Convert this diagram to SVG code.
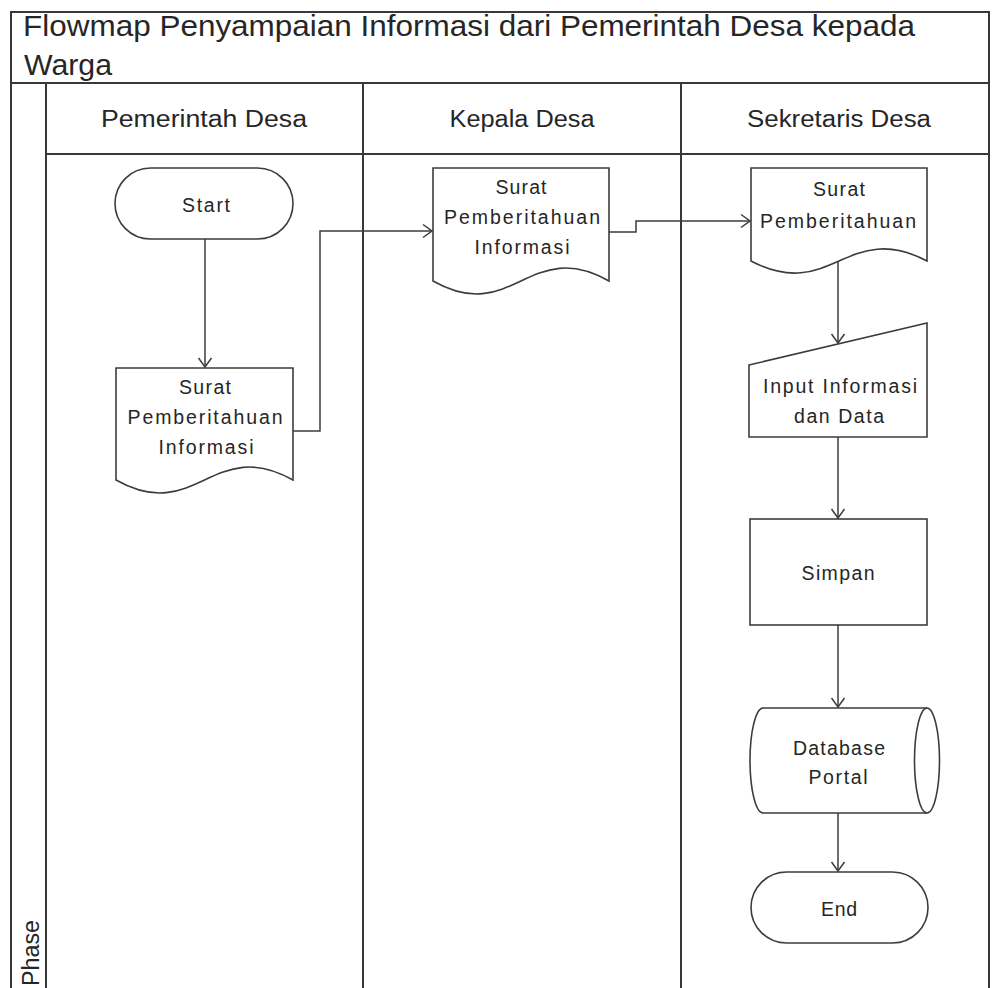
<svg xmlns="http://www.w3.org/2000/svg" width="993" height="988" viewBox="0 0 993 988">
  <style>
    .frame { fill: none; stroke: #383838; stroke-width: 2; }
    .shape { fill: #ffffff; stroke: #3c3c3c; stroke-width: 1.6; }
    .edge { fill: none; stroke: #3c3c3c; stroke-width: 1.5; marker-end: url(#open-arrow); }
    text { font-family: "Liberation Sans", Arial, sans-serif; fill: #262626; }
    .title { font-size: 30px; }
    .lane { font-size: 23px; text-anchor: middle; }
    .label { font-size: 19.5px; text-anchor: middle; }
  </style>
  <defs>
    <marker id="open-arrow" viewBox="-11 -8 12 16" markerWidth="12" markerHeight="16" refX="0" refY="0" orient="auto" markerUnits="userSpaceOnUse">
      <path d="M-9,-6.5 L0,0 L-9,6.5" fill="none" stroke="#3c3c3c" stroke-width="1.5"/>
    </marker>
  </defs>

  <rect width="993" height="988" fill="#ffffff"/>

  <!-- swimlane pool -->
  <g id="pool">
    <rect class="frame" x="11" y="12" width="978" height="1000"/>
    <line class="frame" x1="11" y1="83" x2="989" y2="83"/>
    <line class="frame" x1="46" y1="83" x2="46" y2="1000"/>
    <line class="frame" x1="46" y1="154" x2="989" y2="154"/>
    <line class="frame" x1="363" y1="83" x2="363" y2="1000"/>
    <line class="frame" x1="681" y1="83" x2="681" y2="1000"/>
    <text class="title" x="23" y="36" textLength="892" lengthAdjust="spacingAndGlyphs">Flowmap Penyampaian Informasi dari Pemerintah Desa kepada</text>
    <text class="title" x="24" y="75" textLength="88" lengthAdjust="spacingAndGlyphs">Warga</text>
    <text class="lane" x="204" y="127" textLength="206" lengthAdjust="spacingAndGlyphs">Pemerintah Desa</text>
    <text class="lane" x="522" y="127" textLength="145" lengthAdjust="spacingAndGlyphs">Kepala Desa</text>
    <text class="lane" x="839" y="127" textLength="184" lengthAdjust="spacingAndGlyphs">Sekretaris Desa</text>
    <text x="39" y="986" font-size="23" transform="rotate(-90 39 986)" textLength="66" lengthAdjust="spacingAndGlyphs">Phase</text>
  </g>

  <!-- connectors -->
  <g id="connectors">
    <path class="edge" d="M205,239 V367"/>
    <path class="edge" d="M293,431 H320 V231 H432"/>
    <path class="edge" d="M609,232 H636 V221 H750"/>
    <path class="edge" d="M838,261 V343"/>
    <path class="edge" d="M838,437 V518"/>
    <path class="edge" d="M838,625 V707"/>
    <path class="edge" d="M838,813 V871"/>
  </g>

  <!-- Pemerintah Desa lane -->
  <g id="start">
    <rect class="shape" x="115" y="168" width="178" height="71" rx="35.5"/>
    <text class="label" x="206" y="212" textLength="48" lengthAdjust="spacing">Start</text>
  </g>
  <g id="doc-pemerintah">
    <path class="shape" d="M116,368 H293 V480 C213.4,435 195.7,525 116,480 Z"/>
    <text class="label" x="205" y="394" textLength="52" lengthAdjust="spacing">Surat</text>
    <text class="label" x="205" y="424" textLength="155" lengthAdjust="spacing">Pemberitahuan</text>
    <text class="label" x="206" y="454" textLength="95" lengthAdjust="spacing">Informasi</text>
  </g>

  <!-- Kepala Desa lane -->
  <g id="doc-kepala">
    <path class="shape" d="M433,168 H609 V281 C529.8,236 512.2,326 433,281 Z"/>
    <text class="label" x="521" y="194" textLength="51" lengthAdjust="spacing">Surat</text>
    <text class="label" x="522" y="224" textLength="156" lengthAdjust="spacing">Pemberitahuan</text>
    <text class="label" x="522" y="254" textLength="95" lengthAdjust="spacing">Informasi</text>
  </g>

  <!-- Sekretaris Desa lane -->
  <g id="doc-sekretaris">
    <path class="shape" d="M751,168 H927 V261 C847.8,219 830.2,303 751,261 Z"/>
    <text class="label" x="839" y="196" textLength="52" lengthAdjust="spacing">Surat</text>
    <text class="label" x="838" y="228" textLength="156" lengthAdjust="spacing">Pemberitahuan</text>
  </g>
  <g id="input">
    <path class="shape" d="M749,365 L927,323 V437 H749 Z"/>
    <text class="label" x="840" y="393" textLength="154" lengthAdjust="spacing">Input Informasi</text>
    <text class="label" x="839" y="423" textLength="90" lengthAdjust="spacing">dan Data</text>
  </g>
  <g id="simpan">
    <rect class="shape" x="750" y="519" width="177" height="106"/>
    <text class="label" x="838" y="580" textLength="73" lengthAdjust="spacing">Simpan</text>
  </g>
  <g id="database">
    <path class="shape" d="M763,708 H927 A12.5,52.5 0 0 1 927,813 H763 A13,52.5 0 0 1 763,708 Z"/>
    <path class="shape" d="M927,813 A12.5,52.5 0 0 1 927,708"/>
    <text class="label" x="839" y="755" textLength="92" lengthAdjust="spacing">Database</text>
    <text class="label" x="838" y="784" textLength="59" lengthAdjust="spacing">Portal</text>
  </g>
  <g id="end">
    <rect class="shape" x="751" y="872" width="177" height="71" rx="35.5"/>
    <text class="label" x="839" y="916" textLength="36" lengthAdjust="spacing">End</text>
  </g>
</svg>
